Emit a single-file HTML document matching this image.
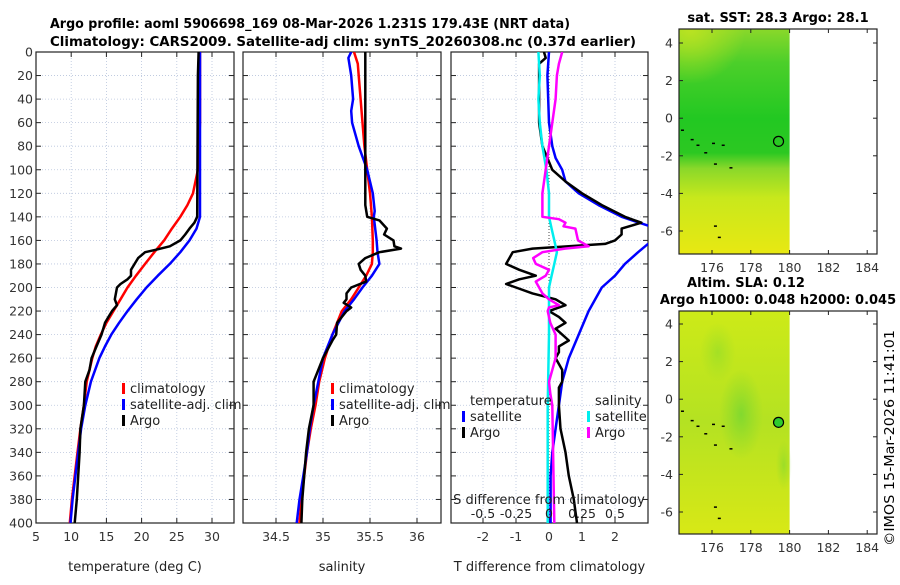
<!DOCTYPE html>
<html><head><meta charset="utf-8"><style>
body{margin:0;background:#fff}
svg text{font-family:"DejaVu Sans","Liberation Sans",sans-serif}
</style></head><body>
<svg id="fig" width="900" height="580" viewBox="0 0 900 580" xmlns="http://www.w3.org/2000/svg">
<defs>
<clipPath id="c1"><rect x="36" y="52" width="198" height="471"/></clipPath>
<clipPath id="c2"><rect x="243" y="52" width="198" height="471"/></clipPath>
<clipPath id="c3"><rect x="451" y="52" width="197" height="471"/></clipPath>
<linearGradient id="sstV" x1="0" y1="0" x2="0" y2="1">
<stop offset="0" stop-color="#8ad82a"/><stop offset="0.15" stop-color="#4ccf2a"/>
<stop offset="0.4" stop-color="#22c822"/><stop offset="0.55" stop-color="#2cc822"/>
<stop offset="0.62" stop-color="#8ad82a"/><stop offset="0.75" stop-color="#c8e81c"/>
<stop offset="1" stop-color="#e8e812"/></linearGradient>
<radialGradient id="sstTL" cx="0.1" cy="0" r="0.5"><stop offset="0" stop-color="#c0e420" stop-opacity="0.9"/><stop offset="1" stop-color="#c0e420" stop-opacity="0"/></radialGradient>
<linearGradient id="slaV" x1="0" y1="0" x2="0" y2="1">
<stop offset="0" stop-color="#cdea18"/><stop offset="0.5" stop-color="#b4e222"/><stop offset="1" stop-color="#d8e816"/></linearGradient>
<radialGradient id="slaB" cx="0.5" cy="0.5" r="0.5"><stop offset="0" stop-color="#7cd830" stop-opacity="0.9"/><stop offset="1" stop-color="#8cd82a" stop-opacity="0"/></radialGradient>
</defs>
<text x="50" y="28" font-size="13" font-weight="bold" textLength="520" lengthAdjust="spacingAndGlyphs">Argo profile: aoml 5906698_169 08-Mar-2026 1.231S 179.43E (NRT data)</text>
<text x="50" y="46" font-size="13" font-weight="bold" textLength="586" lengthAdjust="spacingAndGlyphs">Climatology: CARS2009. Satellite-adj clim: synTS_20260308.nc (0.37d earlier)</text>
<g id="g1"></g>
<g id="g2"></g>
<g id="g3"></g>
<g id="g4"></g>
<g id="g5"></g>
<text transform="translate(894,546) rotate(-90)" font-size="13" textLength="216" lengthAdjust="spacingAndGlyphs">©IMOS 15-Mar-2026 11:41:01</text>
</svg>
<script>
// ---- data ----
const depthTicks=[0,20,40,60,80,100,120,140,160,180,200,220,240,260,280,300,320,340,360,380,400];
const tTicks=[5,10,15,20,25,30];
const sTicks=[34.5,35,35.5,36];
const dTicks=[-2,-1,0,1,2];
const sdTicks=[-0.5,-0.25,0,0.25,0.5];
const tClimD=[0,20,60,100,120,130,140,150,160,170,180,190,200,210,220,230,240,250,260,280,300,320,340,360,380,400];
const tClimV=[28.3,28.3,28.3,28,27.3,26.5,25.5,24.3,23.2,21.8,20.5,19.2,18,17,16,15,14.2,13.5,13,12.2,11.8,11.3,10.9,10.5,10.1,9.8];
const tSatD=[0,100,140,150,160,170,180,190,200,210,220,230,240,250,260,280,300,320,340,360,380,400];
const tSatV=[28.3,28.3,28.3,27.8,26.8,25.5,24,22.3,20.7,19.3,18,16.8,15.7,14.8,14,12.8,12,11.4,11,10.6,10.2,9.9];
const tArgoD=[0,20,140,145,150,155,160,165,168,170,175,180,185,190,193,197,200,210,215,220,225,230,240,250,260,270,280,300,320,340,360,380,400];
const tArgoV=[28.1,28,27.9,27.5,26.8,26.2,25.5,24,22,20.5,19.5,19,18.5,18.5,18,17,16.5,16.2,16.5,15.8,15.3,14.8,14.3,13.6,12.9,12.6,12,11.8,11.3,11.2,11,10.8,10.5];
const sClimD=[0,10,20,40,60,80,100,120,140,160,170,180,190,200,210,220,240,260,280,300,320,340,360,380,400];
const sClimV=[35.33,35.37,35.38,35.4,35.42,35.44,35.47,35.5,35.52,35.53,35.53,35.52,35.46,35.38,35.3,35.2,35.1,35.02,34.96,34.92,34.87,34.83,34.8,34.77,34.75];
const sSatD=[0,5,20,40,50,60,80,100,120,135,140,160,170,180,190,200,210,220,240,260,280,300,320,340,360,380,400];
const sSatV=[35.3,35.27,35.3,35.32,35.3,35.31,35.38,35.47,35.53,35.55,35.54,35.57,35.58,35.6,35.52,35.42,35.33,35.23,35.1,35,34.95,34.9,34.86,34.83,34.79,34.75,34.72];
const sArgoD=[0,130,140,143,150,155,160,165,167,170,175,180,185,190,195,200,205,210,213,217,220,230,240,245,260,280,300,320,340,360,380,400];
const sArgoV=[35.45,35.45,35.47,35.6,35.68,35.65,35.75,35.76,35.83,35.6,35.45,35.38,35.4,35.45,35.46,35.3,35.25,35.25,35.22,35.3,35.25,35.15,35.14,35.1,35,34.9,34.9,34.85,34.82,34.8,34.78,34.77];
const dSatD=[0,20,60,80,90,100,110,120,130,140,147,152,158,163,170,180,190,200,220,240,260,280,300,320,340,360,400];
const dSatV=[0,-0.05,0,0.1,0.2,0.4,0.5,0.9,1.5,2.2,2.95,3.5,3.5,3.0,2.7,2.3,2.0,1.6,1.2,0.9,0.6,0.4,0.3,0.2,0.1,0.05,0.05];
const dArgoD=[0,5,10,20,60,80,90,100,110,120,130,140,145,150,155,160,163,167,170,175,180,185,190,193,197,200,205,210,215,220,225,230,235,240,245,250,255,260,265,270,280,285,290,300,320,340,360,380,400];
const dArgoV=[-0.15,-0.1,-0.3,-0.3,-0.3,-0.2,-0.05,0.1,0.5,1,1.6,2.3,2.8,2.2,2.2,2,1.7,-0.5,-1.1,-1.2,-1.3,-0.9,-0.4,-0.9,-1.3,-1,-0.5,0.2,0.5,0,0.3,0.5,0.2,0.4,0.6,0.3,0.3,0.2,0.3,0.4,0.4,0.3,0.3,0.3,0.35,0.5,0.6,0.75,0.85];
const dsSatD=[0,20,40,60,80,100,120,140,150,160,170,180,190,200,220,240,300,400];
const dsSatV=[-0.08,-0.07,-0.08,-0.07,-0.05,-0.02,0,0,0.02,0.04,0.06,0.04,0.02,0,0,0,-0.01,-0.01];
const dsArgoD=[0,10,20,40,60,80,100,120,140,142,145,148,150,155,160,165,167,170,175,180,185,190,195,200,205,210,215,217,220,230,240,250,260,270,280,290,300,400];
const dsArgoV=[0.1,0.075,0.06,0.05,0.025,0,-0.025,-0.05,-0.05,0.075,0.125,0.11,0.2,0.21,0.22,0.3,0.12,-0.05,-0.12,-0.1,0,-0.025,-0.1,-0.075,-0.05,0,0.075,0,-0.01,0.01,0.05,0.05,0.05,0.025,0,0.01,0.025,0.04];
const lonTicks=[176,178,180,182,184];
const latTicks=[4,2,0,-2,-4,-6];
const coastLon=[174.4,174.9,175.2,175.6,176,176.5,176.1,176.9,176.1,176.3];
const coastLat=[-0.6,-1.1,-1.4,-1.8,-1.3,-1.4,-2.4,-2.6,-5.7,-6.3];
const argoLon=[179.43];const argoLat=[-1.231];

const NS="http://www.w3.org/2000/svg";
function mk(tag,attrs,parent){const e=document.createElementNS(NS,tag);for(const k in attrs)e.setAttribute(k,attrs[k]);parent.appendChild(e);return e;}
const Y=d=>52+d*(471/400);
function frame(g,x0,x1,xs,xticks,xfmt,xlabel,showY){
  for(const d of depthTicks){const y=Y(d);
    const gl=mk('line',{x1:x0,x2:x1,y1:y,y2:y,stroke:'#b8c4dc','stroke-width':0.8,'stroke-dasharray':'1,2'},g);
    
    mk('line',{x1:x0,x2:x0+5,y1:y,y2:y,stroke:'#222'},g);mk('line',{x1:x1-5,x2:x1,y1:y,y2:y,stroke:'#222'},g);
    if(showY){const t=mk('text',{x:x0-3,y:y+4.5,'font-size':12.5,'text-anchor':'end',fill:'#333'},g);t.textContent=d;
      }}
  for(const v of xticks){const x=xs(v);
    const gl=mk('line',{x1:x,x2:x,y1:52,y2:523,stroke:'#b8c4dc','stroke-width':0.8,'stroke-dasharray':'1,2'},g);
    
    mk('line',{x1:x,x2:x,y1:523,y2:518,stroke:'#222'},g);mk('line',{x1:x,x2:x,y1:52,y2:57,stroke:'#222'},g);
    const t=mk('text',{x:x,y:541,'font-size':12.5,'text-anchor':'middle',fill:'#333'},g);t.textContent=xfmt(v);
    }
  const r=mk('rect',{x:x0,y:52,width:x1-x0,height:471,fill:'none',stroke:'#222','stroke-width':1.2},g);
  
  const l=mk('text',{x:(x0+x1)/2,y:571,'font-size':13,'text-anchor':'middle',fill:'#222'},g);l.textContent=xlabel;
  
}
function line(g,D,V,xs,color,clip,name,w){
  const pts=D.map((d,i)=>xs(V[i]).toFixed(1)+','+Y(d).toFixed(1)).join(' ');
  const p=mk('polyline',{points:pts,fill:'none',stroke:color,'stroke-width':w||2.5,'clip-path':'url(#'+clip+')','stroke-linejoin':'round'},g);
  
}
function leg(g,x,y,color,label,name){
  mk('rect',{x:x,y:y-10,width:3,height:11,fill:color},g);
  const t=mk('text',{x:x+8,y:y,'font-size':13,fill:'#222'},g);t.textContent=label;
  
}
// panel 1
const g1=document.getElementById('g1');
const xT=v=>36+(v-5)*7.04;
frame(g1,36,234,xT,tTicks,v=>v,'temperature (deg C)',true);
line(g1,tClimD,tClimV,xT,'#f00','c1','temp-climatology-line');
line(g1,tSatD,tSatV,xT,'#00f','c1','temp-satellite-line');
line(g1,tArgoD,tArgoV,xT,'#000','c1','temp-argo-line');
leg(g1,122,393,'#f00','climatology','legend-climatology');
leg(g1,122,409,'#00f','satellite-adj. clim','legend-satellite');
leg(g1,122,425,'#000','Argo','legend-argo');
// panel 2
const g2=document.getElementById('g2');
const xS=v=>276+(v-34.5)*94;
frame(g2,243,441,xS,sTicks,v=>v,'salinity',false);
line(g2,sClimD,sClimV,xS,'#f00','c2','sal-climatology-line');
line(g2,sSatD,sSatV,xS,'#00f','c2','sal-satellite-line');
line(g2,sArgoD,sArgoV,xS,'#000','c2','sal-argo-line');
leg(g2,331,393,'#f00','climatology','legend-climatology');
leg(g2,331,409,'#00f','satellite-adj. clim','legend-satellite');
leg(g2,331,425,'#000','Argo','legend-argo');
// panel 3
const g3=document.getElementById('g3');
const xD=v=>549+v*33;
const xSD=v=>549+v*4*33;
frame(g3,451,648,xD,dTicks,v=>v,'T difference from climatology',false);
mk('line',{x1:549,x2:549,y1:52,y2:523,stroke:'#444','stroke-width':1,'stroke-dasharray':'1,2'},g3);
line(g3,dSatD,dSatV,xD,'#00f','c3','tdiff-satellite-line');
line(g3,dArgoD,dArgoV,xD,'#000','c3','tdiff-argo-line');
line(g3,dsSatD,dsSatV,xSD,'#0ee','c3','sdiff-satellite-line');
line(g3,dsArgoD,dsArgoV,xSD,'#f0f','c3','sdiff-argo-line');
{const t=mk('text',{x:470,y:405,'font-size':13,fill:'#222'},g3);t.textContent='temperature';
 
 const s=mk('text',{x:595,y:405,'font-size':13,fill:'#222'},g3);s.textContent='salinity';
 }
leg(g3,462,421,'#00f','satellite','legend-t-satellite');
leg(g3,462,437,'#000','Argo','legend-t-argo');
leg(g3,587,421,'#0ee','satellite','legend-s-satellite');
leg(g3,587,437,'#f0f','Argo','legend-s-argo');
{const t=mk('text',{x:549,y:504,'font-size':13,'text-anchor':'middle',fill:'#222'},g3);t.textContent='S difference from climatology';
 
 for(const v of sdTicks){const l=mk('text',{x:xSD(v),y:518,'font-size':12.5,'text-anchor':'middle',fill:'#222'},g3);l.textContent=v;
  }}
// maps
function map(g,top,bot,lat4y,fill,overlay,circFill,titles){
  const lx=v=>712+(v-176)*19.4, ly=v=>lat4y+(4-v)*18.8;
  const bg=mk('rect',{x:679,y:top,width:lx(180)-679,height:bot-top,fill:'url(#'+fill+')'},g);
  
  overlay(lx,ly);
  coastLon.forEach((lo,i)=>{const c=mk('rect',{x:lx(lo),y:ly(coastLat[i]),width:3,height:1.5,fill:'#000'},g);
    });
  argoLon.forEach((lo,i)=>{const c=mk('circle',{cx:lx(lo),cy:ly(argoLat[i]),r:5,fill:circFill,stroke:'#000','stroke-width':1.2},g);
    });
  const r=mk('rect',{x:679,y:top,width:198,height:bot-top,fill:'none',stroke:'#222','stroke-width':1.2},g);
  
  for(const v of lonTicks){const x=lx(v);mk('line',{x1:x,x2:x,y1:bot,y2:bot-4,stroke:'#222'},g);mk('line',{x1:x,x2:x,y1:top,y2:top+4,stroke:'#222'},g);
    const t=mk('text',{x:x,y:bot+18,'font-size':12.5,'text-anchor':'middle',fill:'#333'},g);t.textContent=v;
    }
  for(const v of latTicks){const y=ly(v);mk('line',{x1:679,x2:683,y1:y,y2:y,stroke:'#222'},g);mk('line',{x1:873,x2:877,y1:y,y2:y,stroke:'#222'},g);
    const t=mk('text',{x:673,y:y+4.5,'font-size':12.5,'text-anchor':'end',fill:'#333'},g);t.textContent=v;
    }
  titles.forEach(tt=>{const t=mk('text',{x:tt[0],y:tt[1],'font-size':13,'font-weight':'bold','text-anchor':'middle'},g);t.textContent=tt[2];
    });
}
const g4=document.getElementById('g4');
map(g4,29,254,43,'sstV',(lx,ly)=>{
  mk('rect',{x:679,y:29,width:lx(180)-679,height:110,fill:'url(#sstTL)'},g4);
},'none',[[778,22,'sat. SST: 28.3 Argo: 28.1']]);
const g5=document.getElementById('g5');
map(g5,311,534,324,'slaV',(lx,ly)=>{
  mk('ellipse',{cx:lx(177.5),cy:ly(-0.8),rx:22,ry:45,fill:'url(#slaB)'},g5);
  mk('ellipse',{cx:lx(176.3),cy:ly(2.5),rx:18,ry:30,fill:'url(#slaB)',opacity:0.5},g5);
  mk('ellipse',{cx:lx(179.7),cy:ly(-3.5),rx:8,ry:25,fill:'url(#slaB)',opacity:0.6},g5);
},'#2ecc2e',[[746,287,'Altim. SLA: 0.12'],[778,304,'Argo h1000: 0.048 h2000: 0.045']]);
</script>
</body></html>
